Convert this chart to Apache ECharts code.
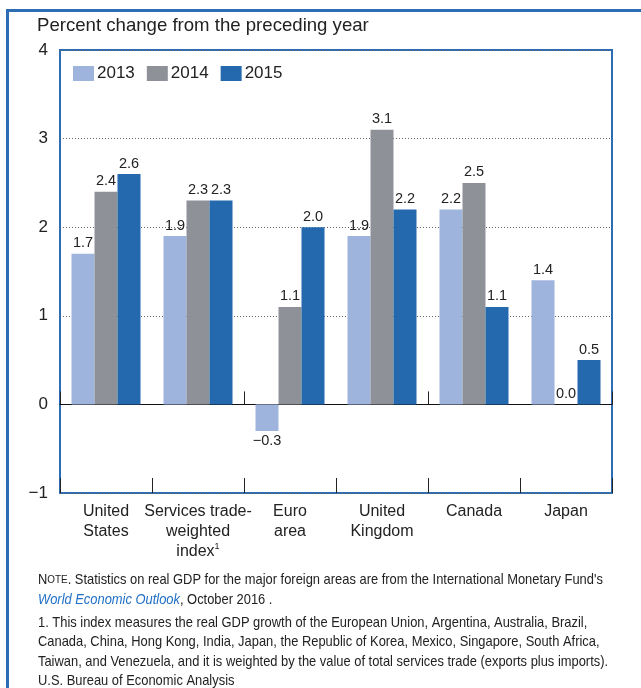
<!DOCTYPE html>
<html><head><meta charset="utf-8">
<script src="https://cdn.jsdelivr.net/npm/echarts@6/dist/echarts.min.js"></script>
<style>html,body{margin:0;padding:0;background:#fff;overflow:hidden}#c{width:641px;height:688px}</style>
</head><body><div id="c"></div>
<script>
const categories = ['United\nStates', 'Services trade-\nweighted\nindex{sup|1}', 'Euro\narea', 'United\nKingdom', 'Canada', 'Japan'];
const years = ['2013', '2014', '2015'];
const v2013 = [1.7, 1.9, -0.3, 1.9, 2.2, 1.4];
const v2014 = [2.4, 2.3, 1.1, 3.1, 2.5, 0.0];
const v2015 = [2.6, 2.3, 2.0, 2.2, 1.1, 0.5];
const yTicks = { min: -1, max: 4, interval: 1 };

const colors = ['#9fb4dc', '#8e9298', '#2469ae'];
const frameBlue = '#2c6db3';
const FONT = '"Liberation Sans", Arial, sans-serif';

function fmt(v) { return (v < 0 ? '\u2212' : '') + Math.abs(v).toFixed(1); }
function items(arr) {
  return arr.map(v => v < 0 ? { value: v, label: { position: 'bottom' } } : { value: v });
}
const seriesVals = [v2013, v2014, v2015];
const NOTE_SX = 0.86;

const chart = echarts.init(document.getElementById('c'), null, { renderer: 'canvas' });
chart.setOption({
  animation: false,
  color: colors,
  grid: { left: 60, right: 29, top: 50, bottom: 195, show: true, borderColor: frameBlue, borderWidth: 2, backgroundColor: 'transparent', containLabel: false },
  legend: {
    data: years, left: 73, top: 65, padding: 0, itemWidth: 21, itemHeight: 15, itemGap: 12,
    icon: 'rect', textStyle: { fontFamily: FONT, fontSize: 17, color: '#222', padding: [0, 0, 0, -2] }
  },
  xAxis: [{
    type: 'category', data: categories, position: 'bottom',
    axisLine: { show: false, onZero: false },
    axisTick: { show: true, inside: true, length: 15, lineStyle: { color: '#222', width: 1 } },
    axisLabel: {
      interval: 0, margin: 9, color: '#222', fontFamily: FONT, fontSize: 16, lineHeight: 20,
      rich: { sup: { fontSize: 9, verticalAlign: 'top', lineHeight: 20, fontFamily: FONT, color: '#222', padding: [0, 0, 8, 0] } }
    },
    splitLine: { show: false }
  }, {
    type: 'category', data: categories, position: 'bottom',
    axisLine: { show: true, onZero: true, lineStyle: { color: '#111', width: 1 } },
    axisTick: { show: true, inside: true, length: 13, lineStyle: { color: '#222', width: 1 } },
    axisLabel: { show: false },
    splitLine: { show: false }
  }],
  yAxis: {
    type: 'value', min: yTicks.min, max: yTicks.max, interval: yTicks.interval,
    axisLine: { show: false }, axisTick: { show: false },
    axisLabel: { margin: 12, color: '#222', fontFamily: FONT, fontSize: 17, formatter: v => (v < 0 ? '\u2212' + Math.abs(v) : String(v)) },
    splitLine: { show: true, lineStyle: { type: [1, 2], color: '#666', width: 1 } }
  },
  series: years.map((y, i) => ({
    name: y, type: 'bar', data: items(seriesVals[i]), barGap: '0%', barCategoryGap: '25%',
    itemStyle: { color: colors[i] },
    label: { show: true, position: 'top', distance: 3, color: '#222', fontFamily: FONT, fontSize: 14.5, formatter: p => fmt(p.value) }
  })),
  graphic: [
    { type: 'rect', shape: { x: 6, y: 9, width: 640, height: 3 }, style: { fill: frameBlue } },
    { type: 'rect', shape: { x: 6, y: 9, width: 3, height: 690 }, style: { fill: frameBlue } },
    { type: 'text', x: 37, y: 16, style: { text: 'Percent change from the preceding year', fontFamily: FONT, fontSize: 18.6, fill: '#222', verticalAlign: 'top' } },
    { type: 'text', x: 38, y: 570, scaleX: NOTE_SX, style: {
      verticalAlign: 'top',
      text: '{n|N}{sc|OTE}{n|. Statistics on real GDP for the major foreign areas are from the International Monetary Fund\'s}\n{it|World Economic Outlook}{n|, October 2016 .}',
      rich: {
        n: { fontFamily: FONT, fontSize: 15, fill: '#222', lineHeight: 20 },
        sc: { fontFamily: FONT, fontSize: 11.5, fill: '#222', lineHeight: 20 },
        it: { fontFamily: FONT, fontSize: 15, fontStyle: 'italic', fill: '#1f6fc6', lineHeight: 20 }
      } } },
    { type: 'text', x: 38, y: 613, scaleX: NOTE_SX, style: {
      verticalAlign: 'top',
      text: '1. This index measures the real GDP growth of the European Union, Argentina, Australia, Brazil,\nCanada, China, Hong Kong, India, Japan, the Republic of Korea, Mexico, Singapore, South Africa,\nTaiwan, and Venezuela, and it is weighted by the value of total services trade (exports plus imports).',
      fontFamily: FONT, fontSize: 15, fill: '#222', lineHeight: 19.5 } },
    { type: 'text', x: 38, y: 673, scaleX: NOTE_SX, style: { verticalAlign: 'top', text: 'U.S. Bureau of Economic Analysis', fontFamily: FONT, fontSize: 15, fill: '#222' } }
  ]
});
</script></body></html>
